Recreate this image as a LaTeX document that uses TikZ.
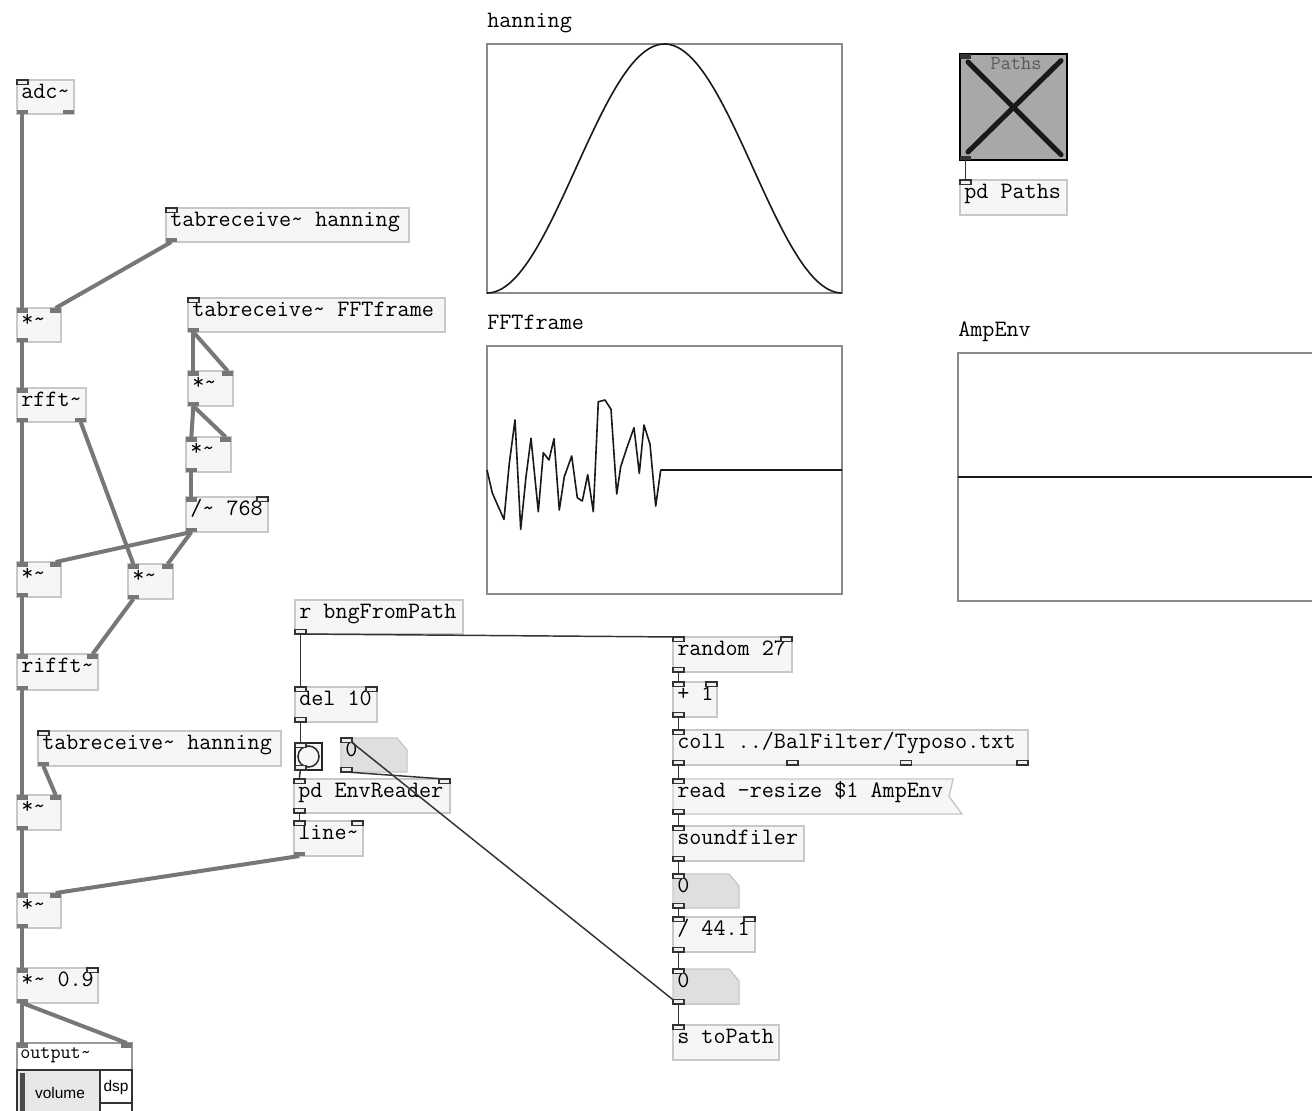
\documentclass[tikz,border=0pt]{standalone}
\usepackage{fontspec}
\setsansfont{Liberation Sans}
\usetikzlibrary{calc}
\definecolor{boxfill}{HTML}{F6F6F6}
\definecolor{boxdraw}{HTML}{C8C8C8}
\definecolor{sigc}{HTML}{777777}
\definecolor{ctlc}{HTML}{333333}
\definecolor{atomfill}{HTML}{DFDFE0}
\definecolor{gopfill}{HTML}{A8A8AA}
\definecolor{framec}{HTML}{8A8A8A}
\definecolor{portfill}{HTML}{EFEFEF}
\newcommand\pdfnt{\fontsize{17.6}{20}\selectfont\ttfamily}
\newcommand\tld{\textasciitilde}
\newcommand\pdbox[6]{%
  \node[obj,minimum width=#4*0.75pt,minimum height=#5*0.75pt] (#1) at (#2,#3) {};
  \node[txt] (#1-t) at ([shift={(3pt,-13.5pt)}]#1.north west) {#6};}
\newcommand\pdatom[5]{%
  \node[ghost,minimum width=#4*0.75pt,minimum height=#5*0.75pt] (#1) at (#2,#3) {};
  \draw[atom] (#1.north west) -- ([xshift=-7.5pt]#1.north east) -- ([yshift=-9pt]#1.north east)
     -- (#1.south east) -- (#1.south west) -- cycle;
  \node[txt] (#1-t) at ([shift={(3pt,-13.5pt)}]#1.north west) {0};}
\newcommand\pinL[2]{\path[#1] (#2.north west) rectangle ++(11,4.5);}
\newcommand\pinR[2]{\path[#1] (#2.north east) rectangle ++(-11,4.5);}
\newcommand\poutL[2]{\path[#1] (#2.south west) rectangle ++(11,-4.5);}
\newcommand\poutR[2]{\path[#1] (#2.south east) rectangle ++(-11,-4.5);}
\begin{document}
\begin{tikzpicture}[x=0.75pt,y=-0.75pt,
  obj/.style={rectangle,draw=boxdraw,fill=boxfill,line width=1.1pt,inner sep=0pt,outer sep=0pt,anchor=north west},
  ghost/.style={rectangle,inner sep=0pt,outer sep=0pt,anchor=north west},
  atom/.style={draw=boxdraw,fill=atomfill,line width=1.1pt},
  txt/.style={anchor=base west,inner sep=0pt,font=\pdfnt},
  sp/.style={fill=sigc},
  cp/.style={draw=ctlc,fill=portfill,line width=0.8pt},
  dp/.style={fill=ctlc},
  sig/.style={draw=sigc,line width=3pt},
  ctl/.style={draw=ctlc,line width=1.1pt},
  arr/.style={rectangle,draw=framec,fill=white,line width=1.1pt,inner sep=0pt,outer sep=0pt,anchor=north west},
  curve/.style={draw=black!90,line width=1.2pt,line join=round}]
\fill[white] (0,0) rectangle (1312,1110);
\useasboundingbox (0,0) rectangle (1312,1110);

% ---------- arrays ----------
\node[txt] (hann-l) at (487,27) {hanning};
\node[arr,minimum width=355*0.75pt,minimum height=249*0.75pt] (hann) at (487,44) {};
\draw[curve] plot[domain=0:1,samples=120] ({487+355*\x},{293-249*(0.5-0.5*cos(360*\x))});

\node[txt] (fftf-l) at (487,329) {FFTframe};
\node[arr,minimum width=355*0.75pt,minimum height=248*0.75pt] (fftf) at (487,346) {};
\draw[curve] plot coordinates {(487,470) (492.3,493) (498.3,506.7) (504,519.3) (509.3,463.3)
 (515,420) (520.7,529.3) (526,476.7) (531,438.3) (538.3,511.7) (543.3,452.7) (549,460)
 (554,438.7) (559.3,510) (564.3,476.7) (571.7,456) (577.3,497.7) (582.3,501) (587.7,474.7)
 (593.3,511.7) (598.3,401.7) (605,400) (611,409.3) (616.7,494) (620.7,466.7) (626.7,448.3)
 (634,427.7) (639.3,473.3) (644,425) (650,444.3) (655.7,506) (660.7,470) (842,470)};

\node[txt] (amp-l) at (958,336) {AmpEnv};
\node[ghost,minimum width=354*0.75pt,minimum height=248*0.75pt] (amp) at (958,353) {};
\draw[draw=framec,line width=1.1pt] (amp.north east) -- (amp.north west) -- (amp.south west) -- (amp.south east);
\draw[curve] (amp.west) -- (amp.east);

% ---------- GOP Paths ----------
\node[rectangle,draw=black,fill=gopfill,line width=1.1pt,inner sep=0pt,outer sep=0pt,anchor=north west,
  minimum width=107*0.75pt,minimum height=106*0.75pt] (gop) at (960,54) {};
\draw[line width=3.8pt,line cap=round,black!90] ([shift={(6pt,-6pt)}]gop.north west) -- ([shift={(-4.5pt,4pt)}]gop.south east);
\draw[line width=3.8pt,line cap=round,black!90] ([shift={(-4.5pt,-5pt)}]gop.north east) -- ([shift={(6pt,6pt)}]gop.south west);
\node[anchor=base,inner sep=0pt,font=\fontsize{14.8}{16}\selectfont\ttfamily,text=black!65] (gop-t) at (1016,69) {Paths};
\pdbox{pdp}{960}{180}{107}{35}{pd Paths}

% ---------- left column ----------
\pdbox{adc}{17}{80}{57}{34}{adc\tld}
\pdbox{thA}{166}{208}{243}{34}{tabreceive\tld{} hanning}
\pdbox{mA}{17}{308}{44}{34}{*\tld}
\pdbox{rfft}{17}{388}{69}{34}{rfft\tld}
\pdbox{thF}{188}{298}{257}{34}{tabreceive\tld{} FFTframe}
\pdbox{mB}{188}{371}{45}{35}{*\tld}
\pdbox{mC}{186}{437}{45}{35}{*\tld}
\pdbox{dv}{186}{497}{82}{35}{/\tld{} 768}
\pdbox{mD}{17}{562}{44}{35}{*\tld}
\pdbox{mE}{128}{564}{45}{35}{*\tld}
\pdbox{rifft}{17}{654}{81}{36}{rifft\tld}
\pdbox{thB}{38}{731}{243}{35}{tabreceive\tld{} hanning}
\pdbox{mF}{17}{795}{44}{35}{*\tld}
\pdbox{mG}{17}{893}{44}{35}{*\tld}
\pdbox{mk}{17}{968}{81}{35}{*\tld{} 0.9}

% output~
\node[rectangle,draw=black!40,fill=white,line width=1.1pt,inner sep=0pt,outer sep=0pt,anchor=north west,
  minimum width=115*0.75pt,minimum height=27*0.75pt] (outp) at (17,1043) {};
\node[anchor=base west,inner sep=0pt,font=\fontsize{14.7}{16}\selectfont\ttfamily] (outp-t) at (20,1058) {output\tld};
\draw[draw=ctlc,fill=black!9,line width=1.1pt] (17,1070) rectangle (100,1116);
\fill[black!70] (20,1073) rectangle (25,1116);
\draw[draw=ctlc,fill=white,line width=1.1pt] (100,1070) rectangle (132,1103);
\draw[draw=ctlc,fill=white,line width=1.1pt] (100,1103) rectangle (132,1116);
\node[inner sep=0pt,font=\sffamily\fontsize{11.6}{13}\selectfont] (vol) at (60,1093) {volume};
\node[inner sep=0pt,font=\sffamily\fontsize{11.6}{13}\selectfont] (dsp) at (116,1087) {dsp};

% ---------- middle ----------
\pdbox{rbng}{295}{600}{168}{34}{r bngFromPath}
\pdbox{del}{295}{687}{82}{35}{del 10}
\node[rectangle,draw=black!85,fill=boxfill,line width=1.5pt,inner sep=0pt,outer sep=0pt,anchor=north west,
  minimum width=27*0.75pt,minimum height=27*0.75pt] (bng) at (295,743) {};
\draw[draw=black!85,line width=1.1pt] (bng.center) circle[radius=7.9pt];
\pdatom{nA}{341}{738}{66}{34}
\pdbox{envr}{294}{779}{156}{34}{pd EnvReader}
\pdbox{lin}{294}{821}{69}{35}{line\tld}

% ---------- right column ----------
\pdbox{rnd}{673}{637}{119}{35}{random 27}
\pdbox{plus}{673}{682}{44}{35}{+ 1}
\pdbox{coll}{673}{730}{355}{35}{coll ../BalFilter/Typoso.txt}
\node[ghost,minimum width=289*0.75pt,minimum height=35*0.75pt] (msg) at (673,779) {};
\draw[atom,fill=boxfill] (msg.north west) -- ([xshift=-6.75pt]msg.north east) -- ([xshift=-9.75pt]msg.east)
   -- (msg.south east) -- (msg.south west) -- cycle;
\node[txt] (msg-t) at ([shift={(3pt,-13.5pt)}]msg.north west) {read -resize \$1 AmpEnv};
\pdbox{sf}{673}{826}{131}{35}{soundfiler}
\pdatom{nB}{673}{874}{66}{34}
\pdbox{dv2}{673}{917}{82}{35}{/ 44.1}
\pdatom{nC}{673}{969}{66}{35}
\pdbox{snd}{673}{1025}{106}{35}{s toPath}

% ---------- signal connections ----------
\draw[sig] ([xshift=4pt]adc.south west) -- ([xshift=4pt]mA.north west);
\draw[sig] ([xshift=4pt]thA.south west) -- ([xshift=-4pt]mA.north east);
\draw[sig] ([xshift=4pt]mA.south west) -- ([xshift=4pt]rfft.north west);
\draw[sig] ([xshift=4pt]rfft.south west) -- ([xshift=4pt]mD.north west);
\draw[sig] ([xshift=-4pt]rfft.south east) -- ([xshift=4pt]mE.north west);
\draw[sig] ([xshift=4pt]thF.south west) -- ([xshift=4pt]mB.north west);
\draw[sig] ([xshift=4pt]thF.south west) -- ([xshift=-4pt]mB.north east);
\draw[sig] ([xshift=4pt]mB.south west) -- ([xshift=4pt]mC.north west);
\draw[sig] ([xshift=4pt]mB.south west) -- ([xshift=-4pt]mC.north east);
\draw[sig] ([xshift=4pt]mC.south west) -- ([xshift=4pt]dv.north west);
\draw[sig] ([xshift=4pt]dv.south west) -- ([xshift=-4pt]mD.north east);
\draw[sig] ([xshift=4pt]dv.south west) -- ([xshift=-4pt]mE.north east);
\draw[sig] ([xshift=4pt]mD.south west) -- ([xshift=4pt]rifft.north west);
\draw[sig] ([xshift=4pt]mE.south west) -- ([xshift=-4pt]rifft.north east);
\draw[sig] ([xshift=4pt]rifft.south west) -- ([xshift=4pt]mF.north west);
\draw[sig] ([xshift=4pt]thB.south west) -- ([xshift=-4pt]mF.north east);
\draw[sig] ([xshift=4pt]mF.south west) -- ([xshift=4pt]mG.north west);
\draw[sig] ([xshift=4pt]lin.south west) -- ([xshift=-4pt]mG.north east);
\draw[sig] ([xshift=4pt]mG.south west) -- ([xshift=4pt]mk.north west);
\draw[sig] ([xshift=4pt]mk.south west) -- ([xshift=4pt]outp.north west);
\draw[sig] ([xshift=4pt]mk.south west) -- ([xshift=-4pt]outp.north east);

% ---------- control connections ----------
\draw[ctl] ([xshift=4pt]rbng.south west) -- ([xshift=4pt]del.north west);
\draw[ctl] ([xshift=4pt]rbng.south west) -- ([xshift=4pt]rnd.north west);
\draw[ctl] ([xshift=4pt]del.south west) -- ([xshift=4pt]bng.north west);
\draw[ctl] ([xshift=4pt]bng.south west) -- ([xshift=4pt]envr.north west);
\draw[ctl] ([xshift=4pt]nA.south west) -- ([xshift=-4pt]envr.north east);
\draw[ctl] ([xshift=4pt]envr.south west) -- ([xshift=4pt]lin.north west);
\draw[ctl] ([xshift=4pt]nC.south west) -- ([xshift=4pt]nA.north west);
\draw[ctl] ([xshift=4pt]rnd.south west) -- ([xshift=4pt]plus.north west);
\draw[ctl] ([xshift=4pt]plus.south west) -- ([xshift=4pt]coll.north west);
\draw[ctl] ([xshift=4pt]coll.south west) -- ([xshift=4pt]msg.north west);
\draw[ctl] ([xshift=4pt]msg.south west) -- ([xshift=4pt]sf.north west);
\draw[ctl] ([xshift=4pt]sf.south west) -- ([xshift=4pt]nB.north west);
\draw[ctl] ([xshift=4pt]nB.south west) -- ([xshift=4pt]dv2.north west);
\draw[ctl] ([xshift=4pt]dv2.south west) -- ([xshift=4pt]nC.north west);
\draw[ctl] ([xshift=4pt]nC.south west) -- ([xshift=4pt]snd.north west);
\draw[ctl] ([xshift=4pt]gop.south west) -- ([xshift=4pt]pdp.north west);

% ---------- ports ----------
\pinL{cp}{adc}\poutL{sp}{adc}\poutR{sp}{adc}
\pinL{cp}{thA}\poutL{sp}{thA}
\pinL{cp}{thF}\poutL{sp}{thF}
\pinL{cp}{thB}\poutL{sp}{thB}
\pinL{sp}{rfft}\poutL{sp}{rfft}\poutR{sp}{rfft}
\pinL{sp}{mA}\pinR{sp}{mA}\poutL{sp}{mA}
\pinL{sp}{mB}\pinR{sp}{mB}\poutL{sp}{mB}
\pinL{sp}{mC}\pinR{sp}{mC}\poutL{sp}{mC}
\pinL{sp}{mD}\pinR{sp}{mD}\poutL{sp}{mD}
\pinL{sp}{mE}\pinR{sp}{mE}\poutL{sp}{mE}
\pinL{sp}{mF}\pinR{sp}{mF}\poutL{sp}{mF}
\pinL{sp}{mG}\pinR{sp}{mG}\poutL{sp}{mG}
\pinL{sp}{rifft}\pinR{sp}{rifft}\poutL{sp}{rifft}
\pinL{sp}{dv}\pinR{cp}{dv}\poutL{sp}{dv}
\pinL{sp}{mk}\pinR{cp}{mk}\poutL{sp}{mk}
\pinL{sp}{outp}\pinR{sp}{outp}
\poutL{cp}{rbng}
\pinL{cp}{del}\pinR{cp}{del}\poutL{cp}{del}
\pinL{cp}{bng}\poutL{cp}{bng}
\pinL{cp}{nA}\poutL{cp}{nA}
\pinL{cp}{envr}\pinR{cp}{envr}\poutL{cp}{envr}
\pinL{cp}{lin}\pinR{cp}{lin}\poutL{sp}{lin}
\pinL{cp}{rnd}\pinR{cp}{rnd}\poutL{cp}{rnd}
\pinL{cp}{plus}\pinR{cp}{plus}\poutL{cp}{plus}
\pinL{cp}{coll}\poutL{cp}{coll}\poutR{cp}{coll}
\path[cp] ([xshift=85.5pt]coll.south west) rectangle ++(11,-4.5);
\path[cp] ([xshift=170.3pt]coll.south west) rectangle ++(11,-4.5);
\pinL{cp}{msg}\poutL{cp}{msg}
\pinL{cp}{sf}\poutL{cp}{sf}
\pinL{cp}{nB}\poutL{cp}{nB}
\pinL{cp}{dv2}\pinR{cp}{dv2}\poutL{cp}{dv2}
\pinL{cp}{nC}\poutL{cp}{nC}
\pinL{cp}{snd}
\pinL{dp}{gop}\poutL{dp}{gop}
\pinL{cp}{pdp}
\end{tikzpicture}
\end{document}
